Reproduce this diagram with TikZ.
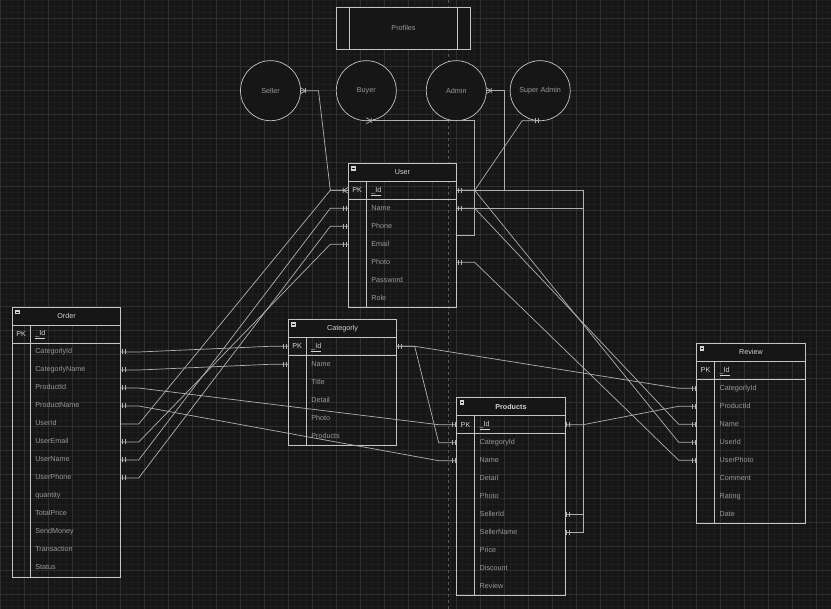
\documentclass[tikz,border=0pt]{standalone}
\usepackage{fontspec}
\setmainfont{Liberation Sans}
\usetikzlibrary{positioning, fit, calc, decorations.markings}

\definecolor{bgc}{HTML}{161616}
\definecolor{gridmin}{HTML}{1E1E1E}
\definecolor{gridmaj}{HTML}{2F2F2F}
\definecolor{linec}{HTML}{B0B0B0}
\definecolor{framec}{HTML}{C4C4C4}
\definecolor{textc}{HTML}{9A9A9A}
\definecolor{headc}{HTML}{D4D4D4}
\definecolor{pagec}{HTML}{585858}

\begin{document}
\begin{tikzpicture}[
        x=1pt, y=1pt,
        font=\fontsize{7.2}{8}\selectfont,
        minorgrid/.style={draw=gridmin, line width=0.5pt, step=6pt},
        majorgrid/.style={draw=gridmaj, line width=0.6pt, step=24pt},
        pageline/.style={draw=pagec, line width=0.6pt, dash pattern=on 3pt off 3pt},
        tabline/.style={draw=framec, line width=0.7pt},
        tabhead/.style={
                rectangle, tabline, fill=bgc, anchor=north west,
                minimum width=108.4pt, minimum height=18pt,
                inner sep=0pt, outer sep=0pt, text=headc
            },
        field/.style={
                rectangle, minimum width=108.4pt, minimum height=18pt,
                inner sep=0pt, outer sep=0pt, text width=62.4pt, align=left,
                text height=5.3pt, text depth=1.7pt, text=textc
            },
        pkrow/.style={field, tabline, text=headc},
        pktag/.style={inner sep=0pt, outer sep=0pt, text=headc},
        tabframe/.style={tabline, inner sep=0pt, outer sep=0pt},
        minusbtn/.style={
                rectangle, fill=headc, minimum size=4.6pt, inner sep=0pt,
                path picture={\draw[bgc, line width=0.8pt]
                    ([xshift=0.9pt]path picture bounding box.west) --
                    ([xshift=-0.9pt]path picture bounding box.east);}
            },
        profile/.style={
                circle, tabline, fill=bgc, minimum size=60pt,
                inner sep=0pt, outer sep=0pt, text=textc
            },
        procbox/.style={
                rectangle, tabline, fill=bgc, minimum width=134.4pt,
                minimum height=42.3pt, inner sep=0pt, outer sep=0pt, text=textc
            },
        conn/.style={draw=linec, line width=0.7pt},
        tipline/.style={draw=linec, line width=0.7pt},
        onestart/.style={postaction={decorate, decoration={markings,
                            mark=at position 0 with {\draw[tipline] (1.5pt,-2.5pt) -- (1.5pt,2.5pt) (4.5pt,-2.5pt) -- (4.5pt,2.5pt);}}}},
        oneend/.style={postaction={decorate, decoration={markings,
                            mark=at position 1 with {\draw[tipline] (-1.5pt,-2.5pt) -- (-1.5pt,2.5pt) (-4.5pt,-2.5pt) -- (-4.5pt,2.5pt);}}}},
        crowstart/.style={postaction={decorate, decoration={markings,
                            mark=at position 0 with {\draw[tipline] (5pt,-2.5pt) -- (5pt,2.5pt) (0pt,-3pt) -- (5pt,0pt) -- (0pt,3pt);}}}},
        crowend/.style={postaction={decorate, decoration={markings,
                            mark=at position 1 with {\draw[tipline] (-5pt,-2.5pt) -- (-5pt,2.5pt) (0pt,-3pt) -- (-5pt,0pt) -- (0pt,3pt);}}}}
    ]
    \useasboundingbox (0,0) rectangle (831,-609);
    \fill[bgc] (0,0) rectangle (831,-609);
    \begin{scope}
        \clip (0,0) rectangle (831,-609);
        \draw[minorgrid] (0,-612) grid (834,0);
        \draw[majorgrid, yshift=6pt] (0,-624) grid (840,0);
    \end{scope}
    \draw[pageline] (448.3,0) -- (448.3,-609);

    % profiles
    \node[procbox] (profiles) at (403.5,-28.2) {Profiles};
    \draw[tabline] ([xshift=13pt]profiles.north west) -- ([xshift=13pt]profiles.south west);
    \draw[tabline] ([xshift=-13pt]profiles.north east) -- ([xshift=-13pt]profiles.south east);
    \node[profile] (seller) at (270.5,-90.7) {Seller};
    \node[profile] (buyer) at (366.3,-90.7) {Buyer};
    \node[profile] (admin) at (456.3,-90.7) {Admin};
    \node[profile] (sadmin) at (540.2,-90.7) {Super Admin};

    % tables
    \node[tabhead] (user) at (348.3,-163.3) {User};
    \node[pkrow, below=0pt of user] (user-0) {\underline{\_Id}};
    \foreach \f [count=\i] in {Name,Phone,Email,Photo,Password,Role} {
        \pgfmathtruncatemacro{\j}{\i-1}
        \node[field, below=0pt of user-\j] (user-\i) {\f};
    }

    \node[tabhead] (ord) at (12.3,-307) {Order};
    \node[pkrow, below=0pt of ord] (ord-0) {\underline{\_Id}};
    \foreach \f [count=\i] in {CategorlyId,CategorlyName,ProductId,ProductName,UserId,UserEmail,
            UserName,UserPhone,quantity,TotalPrice,SendMoney,Transaction,Status} {
        \pgfmathtruncatemacro{\j}{\i-1}
        \node[field, below=0pt of ord-\j] (ord-\i) {\f};
    }

    \node[tabhead] (cat) at (288.3,-319.3) {Categorly};
    \node[pkrow, below=0pt of cat] (cat-0) {\underline{\_Id}};
    \foreach \f [count=\i] in {Name,Title,Detail,Photo,Products} {
        \pgfmathtruncatemacro{\j}{\i-1}
        \node[field, below=0pt of cat-\j] (cat-\i) {\f};
    }

    \node[tabhead, font=\fontsize{7.2}{8}\selectfont\bfseries] (prod) at (456.7,-397.7) {Products};
    \node[pkrow, below=0pt of prod] (prod-0) {\underline{\_Id}};
    \foreach \f [count=\i] in {CategoryId,Name,Detail,Photo,SellerId,SellerName,Price,Discount,Review} {
        \pgfmathtruncatemacro{\j}{\i-1}
        \node[field, below=0pt of prod-\j] (prod-\i) {\f};
    }

    \node[tabhead] (rev) at (696.7,-343.3) {Review};
    \node[pkrow, below=0pt of rev] (rev-0) {\underline{\_Id}};
    \foreach \f [count=\i] in {CategorlyId,ProductId,Name,UserId,UserPhoto,Comment,Rating,Date} {
        \pgfmathtruncatemacro{\j}{\i-1}
        \node[field, below=0pt of rev-\j] (rev-\i) {\f};
    }

    \foreach \t/\n in {user/6, ord/13, cat/5, prod/9, rev/8} {
        \node[tabframe, fit=(\t)(\t-\n)] (\t-tab) {};
        \node[pktag, right=4pt of \t-0.west] (\t-pk) {PK};
        \node[minusbtn] (\t-btn) at ([shift={(5.2pt,-5pt)}]\t.north west) {};
        \draw[tabline] ([xshift=18pt]\t-0.north west) -- ([xshift=18pt]\t-\n.south west);
    }

    % profiles to user
    \draw[conn, crowstart, crowend] (seller.east) -- ++(18,0) -- ([xshift=-18pt]user-0.west) -- (user-0.west);
    \draw[conn, crowstart] (buyer.south) -| ([xshift=18pt]user-tab.east) -- (user-tab.east);
    \draw[conn, crowstart, oneend] (admin.east) -- ++(18,0) |- (user-0.east);
    \draw[conn, onestart, oneend] (sadmin.south) -- ++(-18,0) -- ([xshift=18pt]user-0.east) -- (user-0.east);

    % user to products
    \draw[conn, onestart, oneend] (user-0.east) -| ([xshift=18pt]prod-5.east) -- (prod-5.east);
    \draw[conn, onestart, oneend] (user-1.east) -| ([xshift=18pt]prod-6.east) -- (prod-6.east);

    % east side to west side
    \foreach \a/\b in {user-0/rev-4, user-1/rev-3, user-4/rev-5, cat-0/rev-1, cat-0/prod-1,
            prod-0/rev-2, ord-1/cat-0, ord-2/cat-1, ord-3/prod-0, ord-4/prod-2,
            ord-6/user-3, ord-7/user-1, ord-8/user-2} {
        \draw[conn, onestart, oneend] (\a.east) -- ++(18,0) -- ([xshift=-18pt]\b.west) -- (\b.west);
    }
    \draw[conn] (ord-5.east) -- ++(18,0) -- ([xshift=-18pt]user-0.west) -- (user-0.west);
\end{tikzpicture}
\end{document}
